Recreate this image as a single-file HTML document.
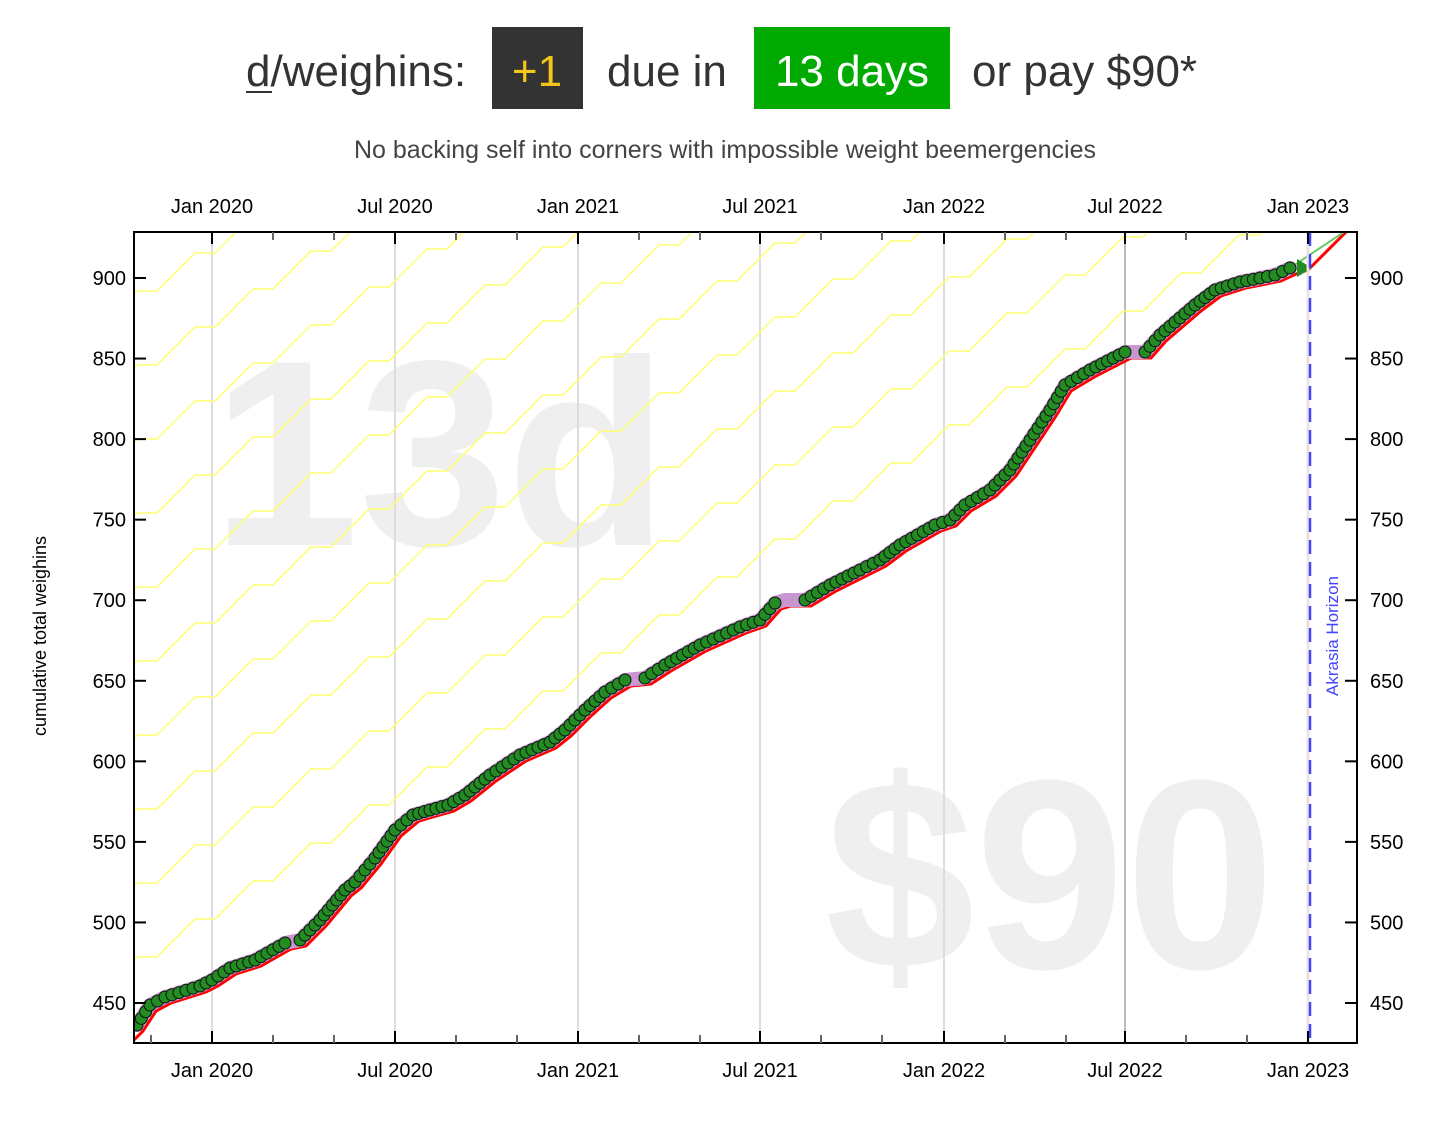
<!DOCTYPE html>
<html><head><meta charset="utf-8"><style>
body{margin:0;background:#fff;width:1450px;height:1130px;overflow:hidden;font-family:"Liberation Sans",sans-serif}
</style></head><body>
<svg id="s" width="1450" height="1130" xmlns="http://www.w3.org/2000/svg" font-family="Liberation Sans, sans-serif">
<text x="246" y="86" font-size="44" fill="#333">d/weighins:</text>
<line x1="246" y1="92" x2="272" y2="92" stroke="#333" stroke-width="2"/>
<rect x="492" y="27" width="91" height="82" fill="#333"/>
<text x="537" y="86" font-size="44" fill="#f5c518" text-anchor="middle">+1</text>
<text x="607" y="86" font-size="44" fill="#333">due in</text>
<rect x="754" y="27" width="196" height="82" fill="#00aa00"/>
<text x="852" y="86" font-size="44" fill="#fff" text-anchor="middle">13 days</text>
<text x="972" y="86" font-size="44" fill="#333">or pay $90*</text>
<text x="725" y="158" font-size="25" fill="#444" text-anchor="middle">No backing self into corners with impossible weight beemergencies</text>
<defs><clipPath id="c"><rect x="134" y="232" width="1223" height="811"/></clipPath></defs>
<text x="440" y="545" font-size="265" font-weight="bold" fill="#efefef" text-anchor="middle">13d</text>
<text x="1050" y="968" font-size="270" font-weight="bold" fill="#efefef" text-anchor="middle">$90</text>
<g id="grid"></g>
<g id="yl" clip-path="url(#c)" fill="none" stroke="#ffff70" stroke-width="1.5"></g>
<g id="dat" clip-path="url(#c)"></g>
<line x1="1308" y1="232" x2="1308" y2="1043" stroke="#ece0e0" stroke-width="3"/>
<line x1="1310" y1="232" x2="1310" y2="1043" stroke="#4444ff" stroke-width="2.5" stroke-dasharray="14,8"/>
<text transform="translate(1338,636) rotate(-90)" font-size="17" fill="#4444ff" text-anchor="middle">Akrasia Horizon</text>
<rect x="134" y="232" width="1223" height="811" fill="none" stroke="#000" stroke-width="2"/>
<text transform="translate(46,636) rotate(-90)" font-size="18" fill="#000" text-anchor="middle">cumulative total weighins</text>
<g id="ax" font-size="20" fill="#000"></g>
</svg>
<script>
const NS="http://www.w3.org/2000/svg";
function el(p,t,a,txt){const e=document.createElementNS(NS,t);for(const k in a)e.setAttribute(k,a[k]);if(txt)e.textContent=txt;document.getElementById(p).appendChild(e);return e;}
const yv=v=>278+(900-v)*1.6111;
for(let v=450;v<=900;v+=50){const y=yv(v);
el("ax","line",{x1:134,y1:y,x2:146,y2:y,stroke:"#000","stroke-width":2});
el("ax","line",{x1:1345,y1:y,x2:1357,y2:y,stroke:"#000","stroke-width":2});
el("ax","text",{x:126,y:y+7,"text-anchor":"end"},v);
el("ax","text",{x:1370,y:y+7},v);}
const xs=[212,395,578,760,944,1125,1308],lb=["Jan 2020","Jul 2020","Jan 2021","Jul 2021","Jan 2022","Jul 2022","Jan 2023"];
xs.forEach((x,i)=>{
el("grid","line",{x1:x,y1:232,x2:x,y2:1043,stroke:i==5?"#bbb":"#ddd","stroke-width":2});
el("ax","line",{x1:x,y1:1031,x2:x,y2:1043,stroke:"#000","stroke-width":2});
el("ax","line",{x1:x,y1:232,x2:x,y2:244,stroke:"#000","stroke-width":2});
el("ax","text",{x:x,y:1077,"text-anchor":"middle"},lb[i]);
el("ax","text",{x:x,y:213,"text-anchor":"middle"},lb[i]);
for(const d of [61,122]){const m=x+d;if(m<1357){
el("ax","line",{x1:m,y1:1035,x2:m,y2:1043,stroke:"#666","stroke-width":2});
el("ax","line",{x1:m,y1:232,x2:m,y2:240,stroke:"#666","stroke-width":2});}}
});
el("ax","line",{x1:151,y1:1035,x2:151,y2:1043,stroke:"#666","stroke-width":2});
for(let k=0;k<12;k++){let x=134-55,y=965+30-74*k;let d="M"+x+","+y;
while(y>200&&x<1400){x+=20;d+=" L"+x+","+y;x+=38;y-=38;d+=" L"+x+","+y;}
el("yl","path",{d:d});}
const P=[[137,1025],[150,1005],[165,997],[200,986],[212,980],[230,968],[255,960],[285,943],[300,940],[320,920],[345,890],[355,882],[375,858],[395,830],[413,815],[430,810],[448,805],[465,795],[490,775],[520,755],[550,742],[565,730],[585,710],[605,692],[625,680],[645,678],[665,665],[700,645],[740,627],[760,620],[775,603],[785,600],[805,600],[830,585],[860,570],[880,560],[900,545],[935,525],[950,520],[965,505],[990,490],[1010,470],[1030,440],[1050,410],[1065,385],[1090,370],[1125,352],[1145,352],[1160,335],[1195,305],[1215,290],[1240,282],[1260,278],[1275,275],[1290,268]];
const gaps=[[288,298],[630,643],[782,805],[1130,1145],[1297,1400]];
let rd="M134,1040";P.forEach(p=>{rd+=" L"+(p[0]+6)+","+(p[1]+6);});rd+=" L1308,270 L1350,228";
el("dat","path",{d:rd,fill:"none",stroke:"#ff0000","stroke-width":3});
el("dat","line",{x1:1290,y1:268,x2:1350,y2:228,stroke:"#6c6","stroke-width":2});
let pd="M"+P.map(p=>p.join(",")).join(" L");
el("dat","path",{d:pd,fill:"none",stroke:"#c896d0","stroke-width":14,"stroke-linejoin":"round","stroke-linecap":"round"});
for(let i=0;i<P.length-1;i++){const [x1,y1]=P[i],[x2,y2]=P[i+1];const L=Math.hypot(x2-x1,y2-y1),n=Math.max(1,Math.round(L/7));
for(let j=0;j<n;j++){const x=x1+(x2-x1)*j/n,y=y1+(y2-y1)*j/n;if(gaps.some(g=>x>g[0]&&x<g[1]))continue;
el("dat","circle",{cx:x,cy:y,r:6,fill:"#228b22",stroke:"#111","stroke-width":1});}}
el("dat","circle",{cx:1290,cy:268,r:6,fill:"#228b22",stroke:"#111"});
el("dat","path",{d:"M1297,259 L1312,268 L1297,277 Z",fill:"#228b22"});
</script>
</body></html>
